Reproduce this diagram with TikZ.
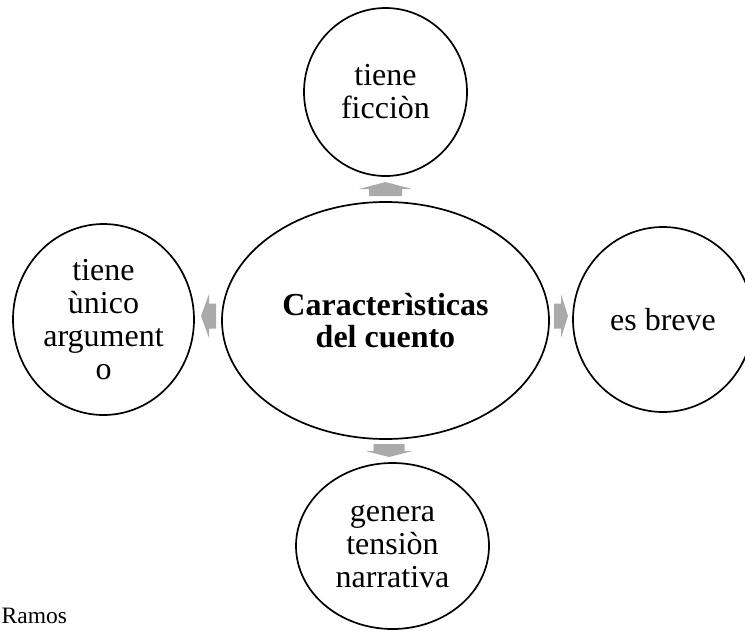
\documentclass[tikz,border=0pt]{standalone}
\usepackage{fontspec}
\setmainfont{Liberation Serif}
\usetikzlibrary{shapes.geometric,calc}
\definecolor{arrowgray}{RGB}{170,170,170}
\begin{document}
\begin{tikzpicture}[x=1pt,y=-1pt,
  bubble/.style={draw=black,line width=1.7pt,ellipse,inner sep=0pt,align=center,
    font=\fontsize{32}{33}\selectfont},
  blockarrow/.style={fill=arrowgray,draw=none}]
\useasboundingbox (0,0) rectangle (745,630);
\node[bubble,minimum width=327pt,minimum height=237pt,font=\fontsize{32}{32}\selectfont\bfseries] (main) at (385.5,320.5) {Caracterìsticas\\del cuento};
\node[bubble,minimum width=163pt,minimum height=168pt] (top) at (385.5,92) {tiene\\ficciòn};
\node[bubble,minimum width=181pt,minimum height=191pt] (left) at (103.5,319.5) {tiene\\ùnico\\argument\\o};
\node[bubble,minimum width=180pt,minimum height=185pt] (right) at (663,319.5) {es breve};
\node[bubble,minimum width=193pt,minimum height=166pt] (bottom) at (392.5,546) {genera\\tensiòn\\narrativa};
\node[anchor=base west,inner sep=0pt,font=\fontsize{23.5}{25}\selectfont] (src) at (1.5,623.5) {Ramos};
% block arrows between the central ellipse and the outer circles
\coordinate (aT) at ($(main.north)!0.5!(top.south)$);
\coordinate (aB) at ($(main.south)!0.5!(bottom.north)$);
\coordinate (aL) at ($(main.west)!0.5!(left.east)+(0,-4)$);
\coordinate (aR) at ($(main.east)!0.5!(right.west)+(0,-4)$);
\fill[blockarrow] (aT) ++(-16.5,7) -- ++(33,0) -- ++(0,-7) -- ++(10,0) -- ++(-26.5,-7) -- ++(-26.5,7) -- ++(10,0) -- cycle;
\fill[blockarrow] (aB) ++(-15.5,-7) -- ++(31,0) -- ++(0,7) -- ++(8,0) -- ++(-23.5,6) -- ++(-23.5,-6) -- ++(8,0) -- cycle;
\fill[blockarrow] (aL) ++(8,-12.5) -- ++(0,25) -- ++(-7,0) -- ++(0,9.5) -- ++(-8,-22) -- ++(8,-22) -- ++(0,9.5) -- cycle;
\fill[blockarrow] (aR) ++(-7,-12.5) -- ++(0,25) -- ++(7,0) -- ++(0,9.5) -- ++(7,-22) -- ++(-7,-22) -- ++(0,9.5) -- cycle;
\end{tikzpicture}
\end{document}
